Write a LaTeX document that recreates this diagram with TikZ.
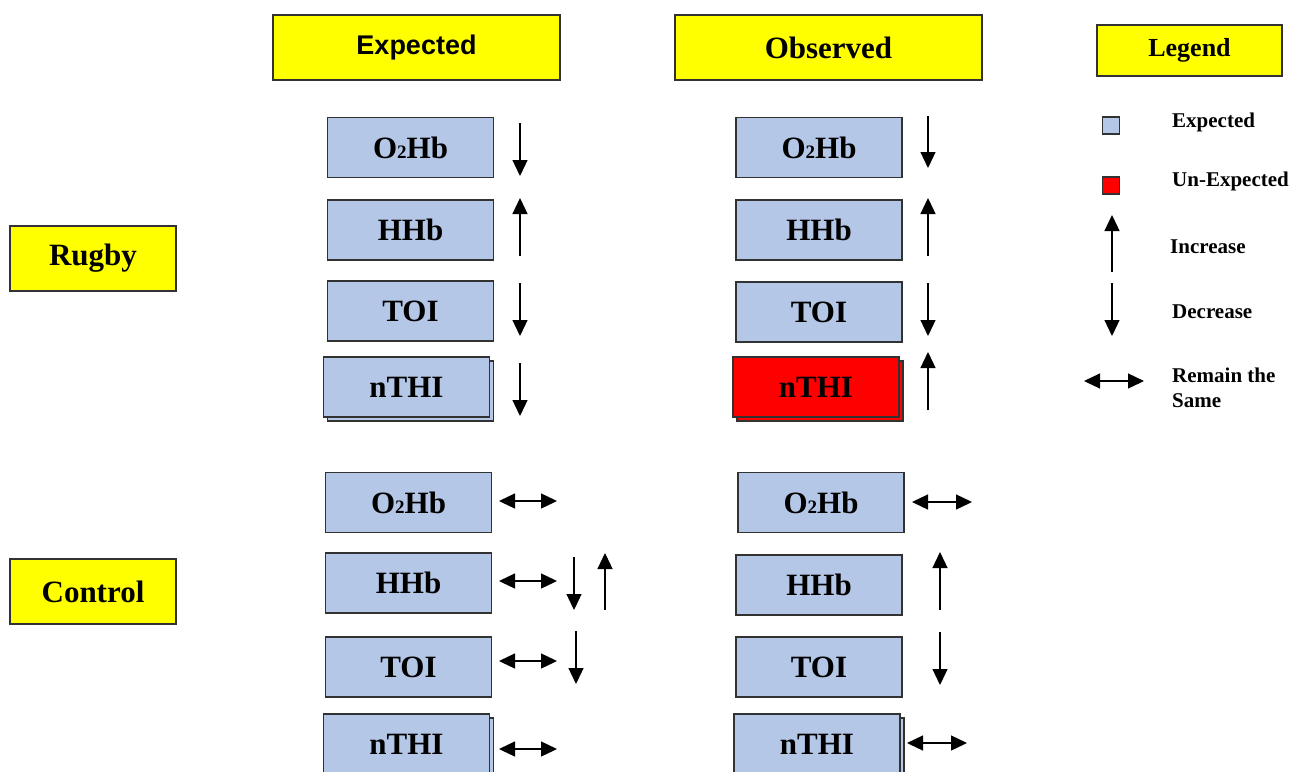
\documentclass[tikz,border=0pt]{standalone}
\usepackage{fontspec}
\setmainfont{Liberation Serif}
\setsansfont{Liberation Sans}
\usetikzlibrary{arrows.meta, positioning, shadows}
\definecolor{hiyellow}{RGB}{255,255,0}
\definecolor{boxblue}{RGB}{180,199,231}
\definecolor{badred}{RGB}{255,0,0}
\definecolor{edge}{RGB}{50,50,50}

\begin{document}
\begin{tikzpicture}[
    x=1pt, y=-1pt,
    head/.style={
        draw=edge, fill=hiyellow, line width=1.5pt,
        inner sep=0pt, font=\fontsize{31}{31}\selectfont\bfseries
    },
    box/.style={
        draw=edge, fill=boxblue, line width=1.5pt,
        minimum width=166pt, minimum height=60pt, inner sep=0pt,
        font=\fontsize{31}{31}\selectfont\bfseries
    },
    stacked/.style={copy shadow={shadow xshift=4pt, shadow yshift=-4pt}},
    bad/.style={fill=badred},
    key/.style={anchor=west, inner sep=0pt, align=left,
        font=\fontsize{21}{25}\selectfont\bfseries},
    swatch/.style={draw=edge, line width=1.2pt, minimum size=17pt, inner sep=0pt},
    up/.style={line width=1.3pt, -{Triangle[length=16pt,width=15pt]}},
    dn/.style={line width=1.3pt, -{Triangle[length=16pt,width=15pt]}},
    same/.style={line width=1.3pt, {Triangle[length=16pt,width=15pt]}-{Triangle[length=16pt,width=15pt]}}
]
\useasboundingbox (0,0) rectangle (1300,771);
\clip (0,0) rectangle (1300,771);

% headers
\node[head, minimum width=287pt, minimum height=65pt,
    font=\fontsize{27}{27}\selectfont\sffamily\bfseries] (hExp) at (416.5,47.5) {Expected};
\node[head, minimum width=307pt, minimum height=65pt] (hObs) at (828.5,47.5) {Observed};
\node[head, minimum width=185pt, minimum height=51pt,
    font=\fontsize{26}{26}\selectfont\bfseries] (hLeg) at (1189.5,50.5) {Legend};
\node[head, minimum width=166pt, minimum height=65pt] (rugby) at (93,258.5) {Rugby};
\node[head, minimum width=166pt, minimum height=65pt] (control) at (93,591.5) {Control};

% rugby, expected
\node[box] (reO) at (410.5,147.5) {O{\fontsize{19}{19}\selectfont 2}Hb};
\node[box, below=21pt of reO] (reH) {HHb};
\node[box, below=19.5pt of reH] (reT) {TOI};
\node[box, stacked, below=14.5pt of reT, xshift=-4pt] (reN) {nTHI};

% rugby, observed
\node[box] (roO) at (819,147.5) {O{\fontsize{19}{19}\selectfont 2}Hb};
\node[box, below=21pt of roO] (roH) {HHb};
\node[box, below=20.5pt of roH] (roT) {TOI};
\node[box, stacked, bad, below=13.5pt of roT, xshift=-3pt] (roN) {nTHI};

% control, expected
\node[box] (ceO) at (408.5,502.5) {O{\fontsize{19}{19}\selectfont 2}Hb};
\node[box, below=19pt of ceO] (ceH) {HHb};
\node[box, below=22.5pt of ceH] (ceT) {TOI};
\node[box, stacked, below=15.5pt of ceT, xshift=-2pt] (ceN) {nTHI};

% control, observed
\node[box] (coO) at (821,502.5) {O{\fontsize{19}{19}\selectfont 2}Hb};
\node[box, below=21pt of coO, xshift=-2pt] (coH) {HHb};
\node[box, below=20.5pt of coH] (coT) {TOI};
\node[box, stacked, below=15.5pt of coT, xshift=-2pt] (coN) {nTHI};

% change markers
\draw[dn] (520,123) -- (520,176);
\draw[up] (520,256) -- (520,198);
\draw[dn] (520,283) -- (520,336);
\draw[dn] (520,363) -- (520,416);

\draw[dn] (928,116) -- (928,168);
\draw[up] (928,256) -- (928,198);
\draw[dn] (928,283) -- (928,336);
\draw[up] (928,410) -- (928,352);

\draw[same] (499,501) -- (557,501);
\draw[same] (499,581) -- (557,581);
\draw[same] (499,661) -- (557,661);
\draw[same] (499,749) -- (557,749);
\draw[dn] (574,557) -- (574,610);
\draw[up] (605,610) -- (605,553);
\draw[dn] (576,631) -- (576,684);

\draw[same] (912,502) -- (972,502);
\draw[up] (940,610) -- (940,552);
\draw[dn] (940,632) -- (940,685);
\draw[same] (907,743) -- (967,743);

% legend
\node[swatch, fill=boxblue] (kExp) at (1111,125.5) {};
\node[swatch, fill=badred] (kBad) at (1111,185.5) {};
\node[key] (tExp) at (1172,122) {Expected};
\node[key] (tBad) at (1172,181) {Un-Expected};
\draw[up] (1112,272) -- (1112,215);
\node[key] (tUp) at (1170,247) {Increase};
\draw[dn] (1112,283) -- (1112,336);
\node[key] (tDn) at (1172,312) {Decrease};
\draw[same] (1084,381) -- (1144,381);
\node[key, anchor=north west] (tSame) at (1172,368) {Remain the\\Same};
\end{tikzpicture}
\end{document}
